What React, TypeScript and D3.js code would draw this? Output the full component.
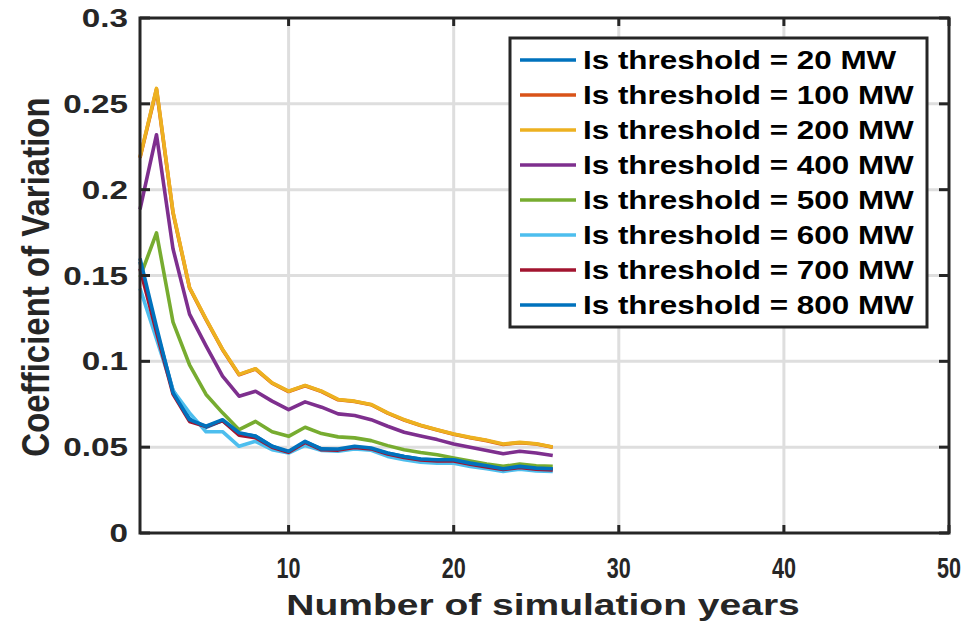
import React from "react";
import * as d3 from "d3";

const years = [1,2,3,4,5,6,7,8,9,10,11,12,13,14,15,16,17,18,19,20,21,22,23,24,25,26];

const labels = [
  "Is threshold = 20 MW",
  "Is threshold = 100 MW",
  "Is threshold = 200 MW",
  "Is threshold = 400 MW",
  "Is threshold = 500 MW",
  "Is threshold = 600 MW",
  "Is threshold = 700 MW",
  "Is threshold = 800 MW",
];

const colors = ["#0072BD", "#D95319", "#EDB120", "#7E2F8E", "#77AC30", "#4DBEEE", "#A2142F", "#0072BD"];

const cv20 = [0.158,0.118,0.083,0.0665,0.0615,0.0655,0.058,0.0565,0.0505,0.047,0.053,0.049,0.0485,0.050,0.049,0.0465,0.0445,0.043,0.0425,0.0425,0.0405,0.039,0.0375,0.0385,0.0378,0.0372];
const cv100 = [0.2185,0.2585,0.1865,0.1428,0.1243,0.1068,0.0922,0.0955,0.0873,0.0824,0.0858,0.0824,0.0776,0.0766,0.0747,0.0698,0.0658,0.0626,0.0600,0.0575,0.0555,0.0538,0.0516,0.0526,0.0518,0.0499];
const cv200 = [0.219,0.259,0.187,0.143,0.1246,0.107,0.0924,0.0957,0.0875,0.0826,0.086,0.0826,0.0778,0.0768,0.0749,0.070,0.066,0.0628,0.0602,0.0577,0.0557,0.054,0.0518,0.0528,0.052,0.0501];
const cv400 = [0.1885,0.232,0.1655,0.1275,0.109,0.0914,0.0797,0.0826,0.0768,0.0719,0.0764,0.0733,0.0694,0.0684,0.066,0.0622,0.0587,0.0565,0.0544,0.0518,0.050,0.0481,0.0462,0.0476,0.0466,0.0452];
const cv500 = [0.149,0.1748,0.1228,0.098,0.0807,0.070,0.0602,0.065,0.059,0.0563,0.0616,0.0579,0.056,0.0554,0.0538,0.0509,0.0485,0.0469,0.0456,0.0437,0.0419,0.0402,0.0388,0.0402,0.0392,0.0388];
const cv600 = [0.1425,0.113,0.083,0.070,0.059,0.059,0.0505,0.0534,0.0485,0.0466,0.051,0.0481,0.0476,0.049,0.0482,0.0446,0.0427,0.0413,0.0407,0.0407,0.0388,0.0374,0.0359,0.0372,0.0362,0.0359];
const cv700 = [0.154,0.117,0.081,0.065,0.062,0.0655,0.057,0.0555,0.050,0.047,0.0528,0.0485,0.0483,0.0498,0.049,0.046,0.044,0.0425,0.042,0.042,0.040,0.0385,0.037,0.0382,0.0372,0.0368];
const cv800 = [0.160,0.120,0.0818,0.066,0.0622,0.066,0.0584,0.0563,0.0505,0.0476,0.0534,0.0489,0.0489,0.0505,0.0495,0.0466,0.0446,0.0431,0.0427,0.0427,0.0407,0.0392,0.0374,0.0388,0.0378,0.0374];

const series = [cv20, cv100, cv200, cv400, cv500, cv600, cv700, cv800];

const xTicks = [10, 20, 30, 40, 50];
const yTicks = [0, 0.05, 0.1, 0.15, 0.2, 0.25, 0.3];
const yTickLabels = ["0", "0.05", "0.1", "0.15", "0.2", "0.25", "0.3"];

const xTitle = "Number of simulation years";
const yTitle = "Coefficient of Variation";

export default function App() {
  const left = 140, right = 949, top = 18, bottom = 533;
  const x = d3.scaleLinear().domain([1, 50]).range([left, right]);
  const y = d3.scaleLinear().domain([0, 0.3]).range([bottom, top]);
  const line = d3.line<number>().x((_, i) => x(years[i])).y((d) => y(d));
  const axisColor = "#262626";
  const font = "'Liberation Sans', Arial, sans-serif";

  const legX = 510, legY = 38, legW = 417, legH = 289, rowH = 35;

  return (
    <svg width={969} height={623} style={{ position: "absolute", left: 0, top: 0, background: "#fff" }} fontFamily={font}>
      {/* grid */}
      {xTicks.filter((t) => t < 50).map((t) => (
        <line key={"gx" + t} x1={x(t)} x2={x(t)} y1={top} y2={bottom} stroke="#dedede" strokeWidth={3} />
      ))}
      {yTicks.filter((t) => t > 0 && t < 0.3).map((t) => (
        <line key={"gy" + t} x1={left} x2={right} y1={y(t)} y2={y(t)} stroke="#dedede" strokeWidth={3} />
      ))}
      {/* series */}
      {series.map((s, i) => (
        <path key={"s" + i} d={line(s) || ""} fill="none" stroke={colors[i]} strokeWidth={3.6} strokeLinejoin="round" strokeLinecap="butt" />
      ))}
      {/* ticks */}
      {xTicks.map((t) => (
        <g key={"tx" + t}>
          <line x1={x(t)} x2={x(t)} y1={bottom} y2={bottom - 8} stroke={axisColor} strokeWidth={3} />
          <line x1={x(t)} x2={x(t)} y1={top} y2={top + 8} stroke={axisColor} strokeWidth={3} />
        </g>
      ))}
      {yTicks.map((t) => (
        <g key={"ty" + t}>
          <line x1={left} x2={left + 10} y1={y(t)} y2={y(t)} stroke={axisColor} strokeWidth={3} />
          <line x1={right} x2={right - 10} y1={y(t)} y2={y(t)} stroke={axisColor} strokeWidth={3} />
        </g>
      ))}
      {/* box */}
      <rect x={left} y={top} width={right - left} height={bottom - top} fill="none" stroke={axisColor} strokeWidth={3} />
      {/* x tick labels */}
      {xTicks.map((t) => (
        <text key={"lx" + t} transform={`translate(${x(t)},${578}) scale(0.72,1)`} textAnchor="middle" fontSize={30} fontWeight="bold" fill={axisColor}>
          {t}
        </text>
      ))}
      {/* y tick labels */}
      {yTicks.map((t, i) => (
        <text key={"ly" + t} transform={`translate(128,${y(t) + 9}) scale(1.33,1)`} textAnchor="end" fontSize={25} fontWeight="bold" fill={axisColor}>
          {yTickLabels[i]}
        </text>
      ))}
      {/* axis titles */}
      <text transform={`translate(543,615) scale(1.3,1)`} textAnchor="middle" fontSize={30} fontWeight="bold" fill={axisColor}>
        {xTitle}
      </text>
      <text transform={`translate(35,277) scale(1.2,1) rotate(-90)`} textAnchor="middle" dy="0.36em" fontSize={33} fontWeight="bold" fill={axisColor}>
        {yTitle}
      </text>
      {/* legend */}
      <rect x={legX} y={legY} width={legW} height={legH} fill="#fff" stroke={axisColor} strokeWidth={3} />
      {labels.map((lab, i) => {
        const cy = legY + 22 + i * rowH;
        return (
          <g key={"lg" + i}>
            <line x1={520} x2={576} y1={cy} y2={cy} stroke={colors[i]} strokeWidth={3.6} />
            <text transform={`translate(583,${cy + 9}) scale(1.257,1)`} fontSize={25} fontWeight="bold" fill="#000">
              {lab}
            </text>
          </g>
        );
      })}
    </svg>
  );
}
